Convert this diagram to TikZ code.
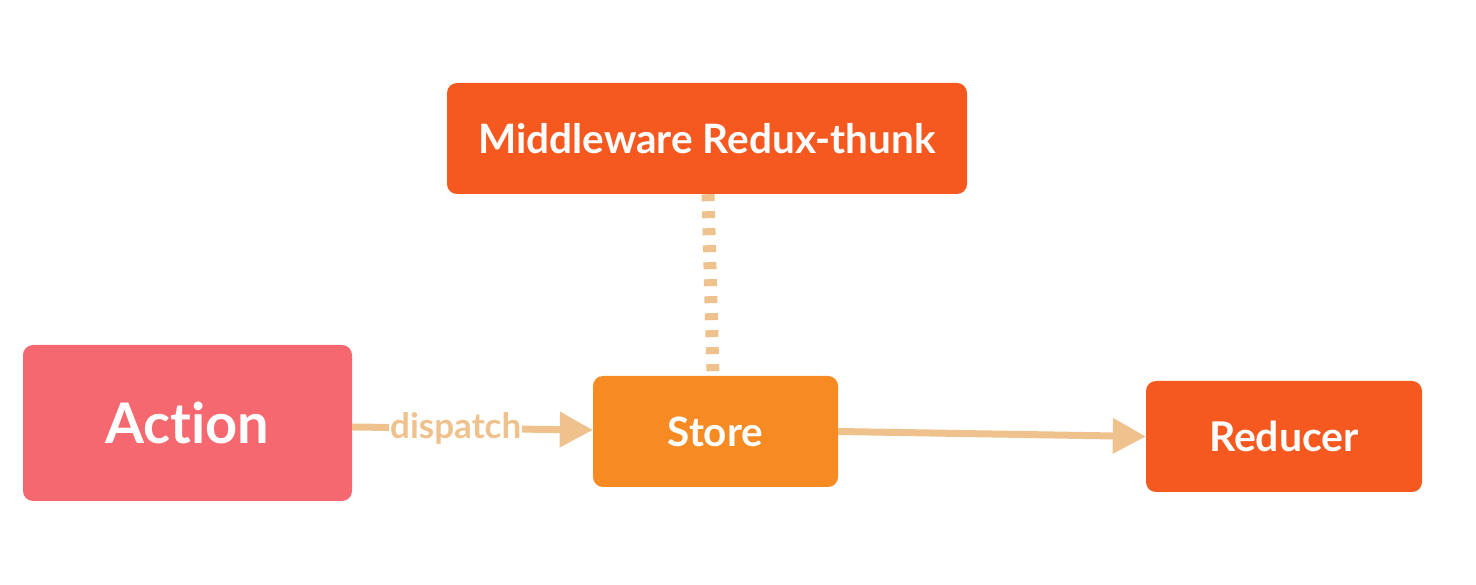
\documentclass[tikz,border=0pt]{standalone}
\usepackage{fontspec}
\setmainfont[Ligatures={NoCommon,NoRequired}]{Lato}
\usetikzlibrary{arrows.meta}
\definecolor{redorange}{HTML}{F5591F}
\definecolor{pinkred}{HTML}{F5686F}
\definecolor{storeor}{HTML}{F68A23}
\definecolor{tan}{HTML}{EFC18C}
\tikzset{
  box/.style={rounded corners=10pt, inner sep=0pt, text=white, font=\bfseries},
  conn/.style={draw=tan, line width=7pt, -{Triangle[length=33pt,width=34pt]}},
}
\begin{document}
\begin{tikzpicture}[x=1pt,y=1pt]
\useasboundingbox (0,0) rectangle (1476,584);
\node[box, fill=redorange, minimum width=520pt, minimum height=111pt, font=\bfseries\fontsize{40.5}{44}\selectfont] (m) at (707,445.5) {Middleware Redux-thunk};
\node[box, fill=pinkred, minimum width=329pt, minimum height=156pt, font=\bfseries\fontsize{56}{60}\selectfont] (a) at (187.5,161) {Action};
\node[box, fill=storeor, minimum width=245pt, minimum height=111pt, font=\bfseries\fontsize{40.5}{44}\selectfont] (s) at (715.5,152.5) {Store};
\node[box, fill=redorange, minimum width=276pt, minimum height=111pt, font=\bfseries\fontsize{41}{44}\selectfont] (r) at (1284,147.5) {Reducer};
\draw[conn] ([yshift=-4pt]a.east) -- node[pos=0.43, fill=white, inner sep=1pt, text=tan, font=\bfseries\fontsize{35}{38}\selectfont] (d) {dispatch} ([yshift=1.5pt]s.west);
\draw[conn] (s.east) -- (r.west);
\draw[draw=tan, line width=13pt, dash pattern=on 7pt off 10pt] ([xshift=1pt]m.south) -- ([xshift=-2.5pt]s.north);
\end{tikzpicture}
\end{document}
